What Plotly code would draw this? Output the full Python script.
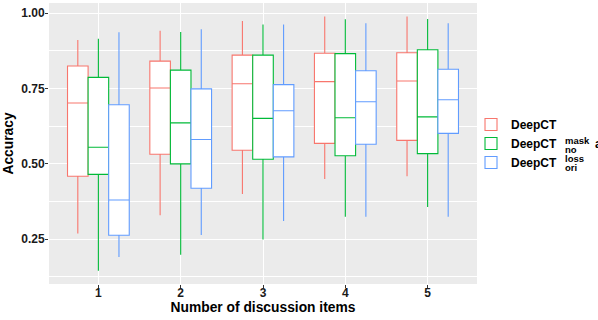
import plotly.graph_objects as go

categories = ["1", "2", "3", "4", "5"]
series_names = ["DeepCT", "DeepCT", "DeepCT"]
series_sup = ["", "mask", "loss"]
series_sub = ["", "no", "ori"]
colors = ["#F8766D", "#00BA38", "#619CFF"]

# per series: lower whisker, q1, median, q3, upper whisker (for items 1..5)
deepct_low = [0.269, 0.329, 0.400, 0.450, 0.459]
deepct_q1 = [0.459, 0.532, 0.545, 0.568, 0.578]
deepct_med = [0.702, 0.752, 0.766, 0.773, 0.775]
deepct_q3 = [0.825, 0.841, 0.861, 0.867, 0.869]
deepct_high = [0.911, 0.942, 0.974, 0.989, 0.989]

nomask_low = [0.145, 0.198, 0.249, 0.324, 0.357]
nomask_q1 = [0.465, 0.500, 0.515, 0.527, 0.534]
nomask_med = [0.555, 0.636, 0.651, 0.653, 0.656]
nomask_q3 = [0.787, 0.811, 0.861, 0.866, 0.879]
nomask_high = [0.915, 0.938, 0.963, 0.980, 0.981]

oriloss_low = [0.191, 0.264, 0.310, 0.324, 0.324]
oriloss_q1 = [0.263, 0.419, 0.523, 0.565, 0.601]
oriloss_med = [0.380, 0.581, 0.676, 0.706, 0.713]
oriloss_q3 = [0.696, 0.749, 0.763, 0.809, 0.814]
oriloss_high = [0.937, 0.947, 0.963, 0.967, 0.967]

stats = [
    (deepct_low, deepct_q1, deepct_med, deepct_q3, deepct_high),
    (nomask_low, nomask_q1, nomask_med, nomask_q3, nomask_high),
    (oriloss_low, oriloss_q1, oriloss_med, oriloss_q3, oriloss_high),
]

FONT = "Liberation Sans, Arial, sans-serif"

fig = go.Figure()
for i, (lo, q1, med, q3, hi) in enumerate(stats):
    fig.add_trace(go.Box(
        x=categories, lowerfence=lo, q1=q1, median=med, q3=q3, upperfence=hi,
        name=f"<b>{series_names[i]}</b>", legendgroup=str(i),
        fillcolor="white", line=dict(color=colors[i], width=1.1),
        whiskerwidth=0, boxpoints=False, hoverinfo="skip",
    ))

fig.update_layout(
    width=598, height=320,
    margin=dict(l=49, r=121, t=3, b=36),
    paper_bgcolor="white", plot_bgcolor="#EBEBEB",
    boxmode="group", boxgap=0.25, boxgroupgap=0,
    font=dict(family=FONT, color="#1a1a1a"),
    showlegend=True,
    legend=dict(x=0.986, y=0.50, xanchor="left", yanchor="middle",
                font=dict(size=12, family=FONT, color="black"),
                bgcolor="rgba(0,0,0,0)", itemwidth=30, tracegroupgap=0),
)
fig.update_xaxes(
    type="category", range=[-0.6, 4.6],
    showgrid=True, gridcolor="white", gridwidth=1.1,
    ticks="outside", ticklen=3, tickcolor="#333333", ticklabelstandoff=-5,
    tickfont=dict(size=12, color="#1a1a1a", weight="bold"),
    title=dict(text="<b>Number of discussion items</b>", font=dict(size=13.8, color="black"), standoff=0),
    zeroline=False, showline=False,
)
fig.update_yaxes(
    range=[0.101, 1.034], tickvals=[0.25, 0.5, 0.75, 1.0],
    ticktext=["0.25", "0.50", "0.75", "1.00"],
    showgrid=True, gridcolor="white", gridwidth=1.1,
    minor=dict(tickvals=[0.125, 0.375, 0.625, 0.875], showgrid=True, gridcolor="white", gridwidth=0.5, ticks=""),
    ticks="outside", ticklen=3, tickcolor="#333333", ticklabelstandoff=-2,
    tickfont=dict(size=12, color="#1a1a1a", weight="bold"),
    title=dict(text="<b>Accuracy</b>", font=dict(size=13.8, color="black"), standoff=4),
    zeroline=False, showline=False,
)

# stacked super/subscripts for legend labels
def px_to_paper(px, py):
    return (px - 49) / 428.0, (284 - py) / 281.0

positions = {1: (563, 140.5, 149.5), 2: (563, 158.5, 167.5)}
for i, (xl, ysup, ysub) in positions.items():
    x, y = px_to_paper(xl, ysup)
    fig.add_annotation(xref="paper", yref="paper", x=x, y=y, text=f"<b>{series_sup[i]}</b>",
                       showarrow=False, xanchor="left", yanchor="middle",
                       font=dict(size=9.5, color="black", family=FONT))
    x, y = px_to_paper(xl, ysub)
    fig.add_annotation(xref="paper", yref="paper", x=x, y=y, text=f"<b>{series_sub[i]}</b>",
                       showarrow=False, xanchor="left", yanchor="middle",
                       font=dict(size=9.5, color="black", family=FONT))

# partially visible text at the right edge
x, y = px_to_paper(593, 144)
fig.add_annotation(xref="paper", yref="paper", x=x, y=y, text="<b>a</b>",
                   showarrow=False, xanchor="left", yanchor="middle",
                   font=dict(size=12, color="black", family=FONT))

fig.write_html("out.html", config={"displayModeBar": False},
               post_script="document.body.style.margin='0';document.body.style.overflow='hidden';")
